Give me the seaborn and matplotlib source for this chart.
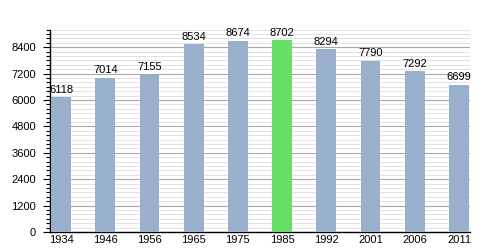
import matplotlib
matplotlib.use("Agg")
import matplotlib.pyplot as plt
import seaborn as sns
import pandas as pd
from matplotlib.ticker import MultipleLocator

years = ["1934", "1946", "1956", "1965", "1975", "1985", "1992", "2001", "2006", "2011"]
population = [6118, 7014, 7155, 8534, 8674, 8702, 8294, 7790, 7292, 6699]
highlight_year = "1985"

blue = "#98b0cc"
green = "#66e066"

sns.set_theme(style="white")
plt.rcParams["font.family"] = ["Liberation Sans", "DejaVu Sans"]

df = pd.DataFrame({"year": years, "pop": population})
colors = [green if y == highlight_year else blue for y in years]

fig = plt.figure(figsize=(5, 2.5), dpi=100)
ax = fig.add_axes([0.10, 0.072, 0.84, 0.81])

sns.barplot(data=df, x="year", y="pop", hue="year", palette=colors,
            legend=False, width=0.45, saturation=1, ax=ax, zorder=3,
            linewidth=0, edgecolor="none")

ax.set_ylim(0, 9200)
ax.set_xlim(-0.25, 9.25)
ax.yaxis.set_major_locator(MultipleLocator(1200))
ax.yaxis.set_minor_locator(MultipleLocator(200))
ax.grid(axis="y", which="major", color="#a8a8a8", linewidth=0.8, zorder=1)
ax.grid(axis="y", which="minor", color="#e2e2e2", linewidth=0.7, zorder=1)
ax.set_axisbelow(True)

for side in ["top", "right"]:
    ax.spines[side].set_visible(False)
for side in ["left", "bottom"]:
    ax.spines[side].set_color("black")
    ax.spines[side].set_linewidth(1.0)

ax.tick_params(axis="y", which="major", left=True, length=5, width=0.8,
               color="black", labelsize=8, pad=5, labelcolor="black")
ax.tick_params(axis="y", which="minor", left=True, length=3, width=0.8, color="black")
ax.tick_params(axis="x", bottom=False, length=0, labelsize=8, pad=2, labelcolor="black")

ax.set_xlabel("")
ax.set_ylabel("")

for i, v in enumerate(population):
    ax.text(i, v + 120, str(v), ha="center", va="bottom", fontsize=8, color="black")

fig.savefig("out.png", dpi=100, facecolor="white")
